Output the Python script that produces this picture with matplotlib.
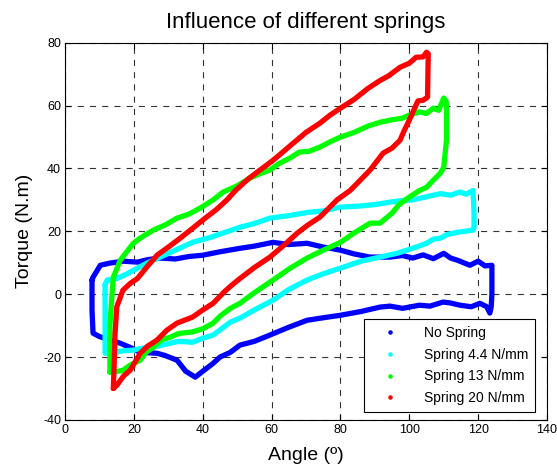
import matplotlib
matplotlib.use("Agg")
import matplotlib.pyplot as plt
from matplotlib.lines import Line2D

plt.rcParams["font.family"] = ["Liberation Sans", "DejaVu Sans"]
plt.rcParams["axes.unicode_minus"] = False

# Hysteresis loops (angle in degrees, torque in N.m)
no_spring_x = [7.8, 8.1, 9, 10.2, 13, 17, 21, 24, 27.6, 32, 36, 40, 45, 50.8, 55,
               60.4, 65, 70.3, 75, 80, 84, 88.6, 94.4, 98, 101, 104, 107, 110, 112,
               114, 117.6, 120, 122, 124, 124, 123.8, 123.4, 122.5, 120.5, 118,
               114.7, 112, 109.8, 106, 103, 98, 94.4, 91.5, 86, 80, 75, 70.3, 65,
               59.5, 55, 50.8, 48, 45, 43, 40, 37.8, 35, 32.5, 29, 26.7, 21.8, 19,
               16, 13, 10, 8.1, 7.8, 7.8, 7.8]
no_spring_y = [4.5, 5.4, 7, 9.2, 9.9, 10.5, 10.2, 11, 11.5, 11.2, 12, 12.4, 13.5,
               14.6, 15.3, 16.5, 15.8, 16.2, 15, 14, 12.8, 11.8, 11.8, 12.3, 11.5,
               12.5, 11.3, 13, 11.5, 10.8, 9.2, 10.5, 9.0, 9.2, 0, -4, -6, -4, -2.9,
               -4, -3.5, -2.8, -2.5, -3.8, -3.5, -4.5, -3.8, -4.1, -5.5, -6.7, -7.5,
               -8.3, -10.5, -13, -15, -16.2, -18.5, -20, -22, -24.5, -26.4, -24.5,
               -21, -19.5, -18.8, -18.5, -17, -15.6, -14.6, -13.5, -12.4, -5, 0, 4.5]

spring44_x = [11.6, 12.2, 15, 18, 21, 24, 27.6, 32, 37, 42, 46, 50.8, 55, 59.5, 65,
              70.3, 75, 80, 85, 90, 94.4, 98, 101, 105, 109, 112, 114.7, 116.5,
              118.5, 118.8, 118.8, 118.5, 116, 114, 111, 109, 107, 105, 101, 96.4,
              91.5, 86, 80, 75, 70.3, 65, 60.4, 55, 50.8, 48, 43, 40, 37, 33, 30.5,
              27, 23.8, 19.8, 17, 14, 11.6, 11.6]
spring44_y = [3, 4.5, 5, 6.5, 8.3, 10, 11.8, 14, 16.5, 18, 19.5, 21.3, 22.5, 24.2,
              25, 26, 26.5, 27.7, 28, 28.5, 29.3, 29.8, 30, 31, 32, 31.5, 32.5, 31.8,
              33, 26, 21, 20.4, 20, 19.7, 19, 17.8, 17.5, 16.2, 14.6, 13, 11.8, 10.5,
              8.3, 6.5, 4.5, 1.5, -1.9, -5, -7.6, -8.9, -13, -14, -15.3, -15, -15.6,
              -16.5, -16.9, -17.8, -18, -18.5, -18.8, 3]

spring13_x = [13, 13, 13.5, 14, 16, 19.8, 22, 25.6, 29, 32.5, 36, 39.2, 43, 45.9,
              50, 53.7, 57, 59.5, 62, 65.3, 68, 71, 74, 77, 80, 84, 88, 91.5, 95, 98,
              100, 103, 105, 107, 108.5, 110, 110.7, 110.8, 110.8, 110, 109, 107,
              105, 103, 100, 97, 95, 91.5, 88.6, 84, 80, 75, 70.3, 65, 60.4, 55,
              50.8, 48, 45, 43, 40, 37, 33, 30.5, 28, 25.6, 23.5, 21.8, 19, 16.8,
              14, 13]
spring13_y = [-24.8, -10, -1.9, 5.4, 10.8, 16.2, 18, 20.4, 22, 24.2, 25.5, 27.4, 30,
              32.5, 34.5, 37, 38.5, 39.5, 41.5, 43.3, 45.2, 45.5, 46.8, 48.5, 50, 51.5,
              53.5, 54.7, 55.5, 56, 57, 58, 57.5, 59.2, 58.5, 62.4, 61.5, 58, 49,
              40.4, 38.5, 36.3, 34, 33, 30.9, 28.5, 25.8, 22.6, 22.6, 19.5, 16.5, 14,
              11.5, 8, 4.5, 0.5, -2.9, -4.5, -7, -9.2, -11, -12, -12.5, -13.7, -14.5,
              -16.9, -18.5, -21, -22.5, -24.2, -24.8, -24.8]

spring20_x = [14, 14.3, 14.5, 15, 16.8, 19, 21, 24, 26.7, 30, 33.4, 36.5, 40, 44,
              47, 49.5, 53, 56.6, 60.4, 63, 66.2, 70, 74, 77, 80, 84, 88, 91.5, 94,
              97.3, 100, 102, 104, 105, 105.5, 105.4, 105.3, 104, 102.5, 100, 98.5,
              97.3, 95, 92.4, 88.6, 85.5, 82.8, 79, 74, 70.5, 67.4, 64, 59.5, 55,
              50.8, 48, 46, 43, 40, 37, 32.5, 29.5, 26.7, 24, 21.8, 18.9, 17, 15, 14]
spring20_y = [-30, -20, -12.4, -4, 1.3, 3.5, 5, 9, 12.4, 15, 17.8, 20.5, 23.6, 27,
              30, 33, 36.5, 39.5, 42.6, 45, 48, 51.5, 54.4, 57, 59.2, 62, 65.5, 68,
              69.5, 72.2, 73.5, 75.4, 75.5, 77, 76.5, 70, 62.7, 61.7, 61.5, 55.4, 52,
              49, 46.5, 44.9, 39.5, 36, 33, 30, 24.5, 22, 19.4, 16, 11.8, 8.5, 5, 2.5,
              0.5, -2.9, -5, -7.3, -9.2, -11.5, -14.6, -16.5, -18.8, -24.2, -26, -29,
              -30]

series = [
    ("No Spring", no_spring_x, no_spring_y, "#0000FF"),
    ("Spring 4.4 N/mm", spring44_x, spring44_y, "#00FFFF"),
    ("Spring 13 N/mm", spring13_x, spring13_y, "#00FF00"),
    ("Spring 20 N/mm", spring20_x, spring20_y, "#FF0000"),
]

fig = plt.figure(figsize=(5.57, 4.65), dpi=100)
ax = fig.add_axes([0.117, 0.097, 0.865, 0.811])

for label, xs, ys, color in series:
    ax.plot(xs, ys, color=color, lw=3.8, solid_joinstyle="round",
            solid_capstyle="round")

ax.set_xlim(0, 140)
ax.set_ylim(-40, 80)
ax.set_xticks(range(0, 141, 20))
ax.set_yticks(range(-40, 81, 20))
ax.tick_params(direction="in", top=True, right=True, length=4, labelsize=9,
               width=0.8, pad=3)
ax.grid(True, color="#333333", lw=0.8, linestyle=(0, (5.5, 5.5)))
for sp in ax.spines.values():
    sp.set_linewidth(0.8)

ax.set_xlabel("Angle (º)", fontsize=14, labelpad=8)
ax.set_ylabel("Torque (N.m)", fontsize=14, labelpad=7)
ax.set_title("Influence of different springs", fontsize=16, pad=11)

handles = [Line2D([], [], ls="none", marker=".", markersize=4.5, color=c, label=l)
           for l, _, _, c in series]
leg = ax.legend(handles=handles, loc="lower right", bbox_to_anchor=(0.975, 0.021),
                borderaxespad=0, fontsize=10, fancybox=False, framealpha=1,
                edgecolor="black", handlelength=2.8, handletextpad=1.0,
                labelspacing=0.55, borderpad=0.5)
leg.get_frame().set_linewidth(0.8)

fig.savefig("out.png", dpi=100)
